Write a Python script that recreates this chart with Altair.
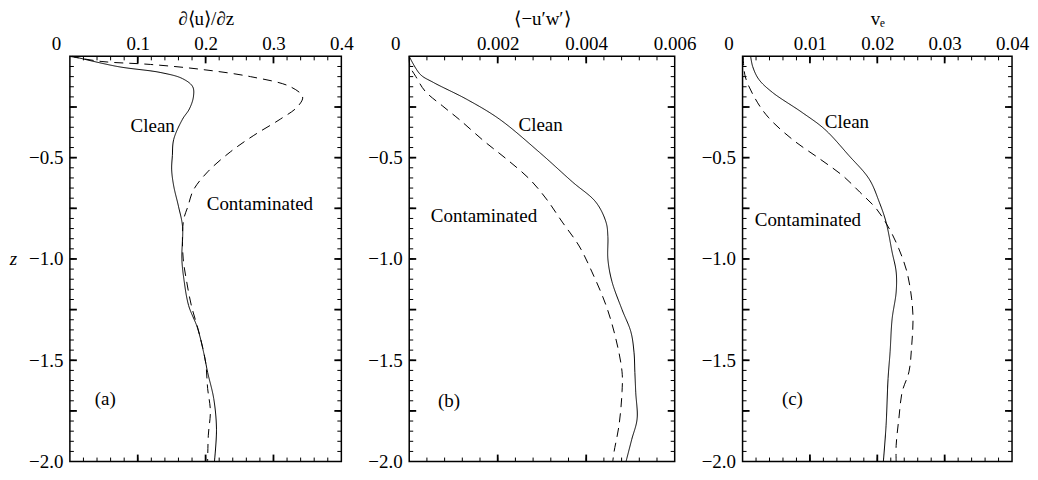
import altair as alt
import pandas as pd

FONT = "Liberation Serif"

# ---------------- data ----------------
# panel (a): d<u>/dz
a_clean_z = [0, -0.05, -0.08, -0.11, -0.15, -0.2, -0.26, -0.31, -0.41, -0.49, -0.56, -0.64, -0.74, -0.84, -1.0, -1.1, -1.23, -1.34, -1.46, -1.56, -1.69, -1.84, -2.0]
a_clean_x = [0.004, 0.07, 0.134, 0.166, 0.181, 0.182, 0.176, 0.166, 0.153, 0.151, 0.150, 0.153, 0.160, 0.166, 0.165, 0.168, 0.175, 0.188, 0.197, 0.203, 0.212, 0.216, 0.213]
a_cont_z = [0, -0.025, -0.04, -0.064, -0.10, -0.15, -0.20, -0.25, -0.31, -0.39, -0.47, -0.57, -0.66, -0.74, -0.80, -0.87, -1.0, -1.11, -1.23, -1.36, -1.51, -1.64, -1.75, -1.87, -2.0]
a_cont_x = [0.0, 0.046, 0.119, 0.193, 0.266, 0.325, 0.343, 0.335, 0.310, 0.271, 0.237, 0.203, 0.182, 0.174, 0.168, 0.166, 0.167, 0.172, 0.179, 0.190, 0.200, 0.203, 0.207, 0.204, 0.203]

# panel (b): <-u'w'>
b_clean_z = [0, -0.089, -0.128, -0.212, -0.31, -0.473, -0.62, -0.72, -0.82, -0.89, -1.0, -1.11, -1.25, -1.36, -1.46, -1.56, -1.66, -1.79, -1.89, -2.0]
b_clean_x = [0, 0.00025, 0.00054, 0.0013, 0.00204, 0.00294, 0.00369, 0.00422, 0.00445, 0.00449, 0.00449, 0.00458, 0.00481, 0.00501, 0.00508, 0.0051, 0.00512, 0.00515, 0.00503, 0.0049]
b_cont_z = [0, -0.05, -0.10, -0.172, -0.246, -0.315, -0.42, -0.507, -0.606, -0.704, -0.818, -0.936, -1.064, -1.23, -1.394, -1.557, -1.655, -1.823, -1.951, -2.0]
b_cont_x = [0, 0.00002, 0.00015, 0.00036, 0.00076, 0.00115, 0.0017, 0.0022, 0.00272, 0.0031, 0.00346, 0.00384, 0.00413, 0.00445, 0.00467, 0.00481, 0.00481, 0.00474, 0.00463, 0.0046]

# panel (c): v_e
c_clean_z = [0, -0.05, -0.113, -0.177, -0.276, -0.36, -0.49, -0.606, -0.72, -0.818, -0.966, -1.064, -1.163, -1.296, -1.458, -1.59, -1.823, -2.0]
c_clean_x = [0.0012, 0.0015, 0.0024, 0.0044, 0.0088, 0.0122, 0.0158, 0.0188, 0.0203, 0.0213, 0.0222, 0.0228, 0.0228, 0.0222, 0.0219, 0.0216, 0.0213, 0.0209]
c_cont_z = [0, -0.1, -0.21, -0.30, -0.41, -0.507, -0.59, -0.67, -0.754, -0.852, -0.95, -1.064, -1.197, -1.296, -1.43, -1.557, -1.655, -1.788, -1.92, -2.0]
c_cont_x = [0.0001, 0.0004, 0.0019, 0.0038, 0.0074, 0.0115, 0.0149, 0.0174, 0.0199, 0.0218, 0.0232, 0.0244, 0.0251, 0.0253, 0.0251, 0.0247, 0.0237, 0.0232, 0.0228, 0.0228]

# annotations (label, x, z)
a_notes = [("Clean", 0.122, -0.345), ("Contaminated", 0.28, -0.73), ("(a)", 0.052, -1.69)]
b_notes = [("Clean", 0.00297, -0.34), ("Contaminated", 0.00169, -0.79), ("(b)", 0.0009, -1.70)]
c_notes = [("Clean", 0.0155, -0.325), ("Contaminated", 0.0097, -0.81), ("(c)", 0.0074, -1.69)]

# axes
a_xmax, a_xlabels, a_xminor = 0.4, [0, 0.1, 0.2, 0.3, 0.4], [round(i * 0.02, 4) for i in range(1, 20)]
b_xmax, b_xlabels, b_xminor = 0.006, [0, 0.002, 0.004, 0.006], [round(i * 0.0004, 6) for i in range(1, 15)]
c_xmax, c_xlabels, c_xminor = 0.04, [0, 0.01, 0.02, 0.03, 0.04], [round(i * 0.002, 5) for i in range(1, 20)]
z_labels = [-0.5, -1.0, -1.5, -2.0]
z_major = [-0.25, -0.5, -0.75, -1.0, -1.25, -1.5, -1.75]
z_minor = [round(-i * 0.05, 3) for i in range(1, 40)]

H = 406


def panel(cx, cz, dx, dz, notes, xmax, xlabels, xminor, title, width, ztitle):
    rows = []
    for i, (x, z) in enumerate(zip(cx, cz)):
        rows.append({"x": x, "z": z, "s": "Clean", "i": i})
    for i, (x, z) in enumerate(zip(dx, dz)):
        rows.append({"x": x, "z": z, "s": "Contaminated", "i": i})
    df = pd.DataFrame(rows)
    xs = alt.Scale(domain=[0, xmax], nice=False, zero=False)
    ys = alt.Scale(domain=[-2, 0], nice=False, zero=False)

    yaxis_kw = dict(values=z_labels, format=".1f", ticks=False, domain=False, grid=False,
                    labelFont=FONT, labelFontSize=19, labelColor="black", labelPadding=7,
                    labelFlush=False)
    if ztitle:
        yaxis_kw.update(title="z", titleAngle=0, titleFont=FONT, titleFontSize=19,
                        titleFontStyle="italic", titleFontWeight="normal", titleColor="black",
                        titleX=-57, titleY=H / 2, titleBaseline="middle", titleAlign="center")
    else:
        yaxis_kw.update(title="")

    xaxis = alt.Axis(
        orient="top", values=xlabels, format="~g", ticks=False, domain=False, grid=False,
        labelFont=FONT, labelFontSize=19, labelColor="black", labelPadding=3, labelFlush=False,
        labelOffset={"condition": {"test": "datum.value === 0", "value": -14}, "value": 0},
        title=title, titleFont=FONT, titleFontSize=19, titleFontWeight="normal",
        titleColor="black", titlePadding=6)
    yaxis = alt.Axis(**yaxis_kw)

    lines = alt.Chart(df).mark_line(color="black", strokeWidth=1, interpolate="catmull-rom").encode(
        x=alt.X("x:Q", scale=xs, axis=xaxis),
        y=alt.Y("z:Q", scale=ys, axis=yaxis),
        strokeDash=alt.StrokeDash("s:N", scale=alt.Scale(domain=["Clean", "Contaminated"],
                                                         range=[[1, 0], [9, 6]]), legend=None),
        detail="s:N",
        order="i:Q",
    )

    ndf = pd.DataFrame(notes, columns=["label", "x", "z"])
    texts = alt.Chart(ndf).mark_text(font=FONT, fontSize=19, color="black",
                                     align="center", baseline="middle").encode(
        x=alt.X("x:Q", scale=xs), y=alt.Y("z:Q", scale=ys), text="label:N")

    layers = [lines, texts]
    xmajor = [v for v in xlabels if 0 < v < xmax]
    for vals, ln, sw in [(z_major, 7, 1.8), (z_minor, 4, 1)]:
        tdf = pd.DataFrame({"v": vals})
        base = alt.Chart(tdf).mark_rule(color="black", strokeWidth=sw)
        yenc = alt.Y("v:Q", scale=ys)
        layers.append(base.encode(y=yenc, x=alt.value(0), x2=alt.value(ln)))
        layers.append(base.encode(y=yenc, x=alt.value(width), x2=alt.value(width - ln)))
    for vals, ln, sw in [(xmajor, 7, 1.8), (xminor, 4, 1)]:
        tdf = pd.DataFrame({"v": vals})
        base = alt.Chart(tdf).mark_rule(color="black", strokeWidth=sw)
        xenc = alt.X("v:Q", scale=xs)
        layers.append(base.encode(x=xenc, y=alt.value(0), y2=alt.value(ln)))
        layers.append(base.encode(x=xenc, y=alt.value(H), y2=alt.value(H - ln)))
    return alt.layer(*layers).properties(width=width, height=H)


pa = panel(a_clean_x, a_clean_z, a_cont_x, a_cont_z, a_notes, a_xmax, a_xlabels, a_xminor,
           "∂⟨u⟩/∂z", 272, True)
pb = panel(b_clean_x, b_clean_z, b_cont_x, b_cont_z, b_notes, b_xmax, b_xlabels, b_xminor,
           "⟨−u′w′⟩", 266, False)
pc = panel(c_clean_x, c_clean_z, c_cont_x, c_cont_z, c_notes, c_xmax, c_xlabels, c_xminor,
           "vₑ", 270, False)

chart = alt.hconcat(pa, pb, pc, spacing=68, bounds="flush").properties(
    padding={"left": 0, "top": 0, "right": 0, "bottom": 0}
).configure_view(stroke="black", strokeWidth=1.5)

chart.save("out.html", embed_options={"renderer": "svg", "actions": False})
